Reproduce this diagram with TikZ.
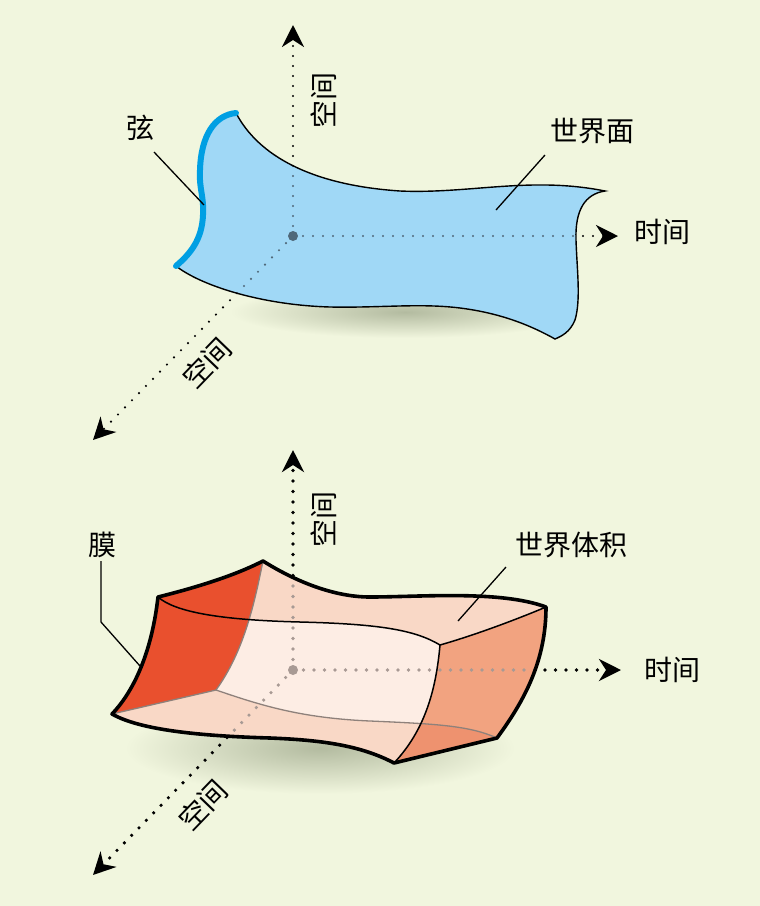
\documentclass[tikz,border=0pt]{standalone}
\usepackage{fontspec}
\newfontfamily\cjk{Noto Sans CJK SC}
\usetikzlibrary{arrows.meta}
\definecolor{bg}{HTML}{F1F6DE}
\definecolor{sheetc}{HTML}{A0D8F6}
\definecolor{stringc}{HTML}{009FE3}
\definecolor{dotone}{HTML}{50697A}
\definecolor{redc}{HTML}{E9502E}
\definecolor{pinkc}{HTML}{F9D8C6}
\definecolor{lightc}{HTML}{FDEDE4}
\definecolor{salmonc}{HTML}{F2A380}
\definecolor{salmondk}{HTML}{EE926F}
\definecolor{edgegray}{HTML}{8E817B}
\definecolor{dottwo}{HTML}{A89A94}
\definecolor{shadowc}{HTML}{B3BBA0}
\begin{document}
\begin{tikzpicture}[x=1pt,y=-1pt,
  lbl/.style={font=\cjk\fontsize{28}{30}\selectfont, inner sep=0pt},
  tip/.style={-{Stealth[length=22pt,width=22pt,inset=7pt]}},
  dotsa/.style={line width=2.4pt, line cap=round, dash pattern=on 0pt off 10pt},
  dotsb/.style={line width=3.6pt, line cap=round, dash pattern=on 0pt off 10.5pt},
  leader/.style={line width=1.3pt},
  outline/.style={line width=1.4pt},
  thick outline/.style={line width=3.6pt, line join=round},
  thinbox/.style={line width=1.5pt},
  grayedge/.style={line width=1.3pt, draw=edgegray}]
\fill[bg] (0,0) rectangle (760,906);
\useasboundingbox (0,0) rectangle (760,906);

% ---------------- top diagram ----------------
\coordinate (O1) at (293,236);
\coordinate (Tv) at (293,25);
\coordinate (Tr) at (618,236);
\coordinate (Td) at (93,440);
\coordinate (P1) at (236,113);
\coordinate (P2) at (176,266);
\coordinate (P3) at (605,191);
\coordinate (P4) at (555,339);
\def\sheetpath{(P1) .. controls (258,155) and (310,185) .. (400,191) .. controls (470,194) and (530,176) .. (P3) .. controls (585,194) and (575,210) .. (576,240) .. controls (577,270) and (581,300) .. (575,320) .. controls (570,332) and (562,336) .. (P4) .. controls (530,325) and (500,313) .. (460,308) .. controls (420,303) and (380,308) .. (330,307) .. controls (260,305) and (200,285) .. (P2) .. controls (190,254) and (202,240) .. (203,215) .. controls (204,195) and (199,190) .. (200,170) .. controls (201,135) and (215,115) .. (P1) -- cycle}

\shade[inner color=shadowc, outer color=bg] (405,312) ellipse [x radius=175pt, y radius=26pt];

\draw[dotsa, tip] (O1) -- (Tv);
\draw[dotsa, tip] (O1) -- (Tr);
\draw[dotsa, tip] (O1) -- (Td);

\fill[sheetc] \sheetpath;
\begin{scope}
  \clip \sheetpath;
  \draw[dotsa, dotone] (O1) -- (Tv);
  \draw[dotsa, dotone] (O1) -- (Tr);
  \draw[dotsa, dotone] (O1) -- (Td);
\end{scope}
\fill[dotone] (O1) circle (5pt);

\draw[outline] (P1) .. controls (258,155) and (310,185) .. (400,191) .. controls (470,194) and (530,176) .. (P3) .. controls (585,194) and (575,210) .. (576,240) .. controls (577,270) and (581,300) .. (575,320) .. controls (570,332) and (562,336) .. (P4) .. controls (530,325) and (500,313) .. (460,308) .. controls (420,303) and (380,308) .. (330,307) .. controls (260,305) and (200,285) .. (P2);
\draw[stringc, line width=6pt, line cap=round] (P2) .. controls (190,254) and (202,240) .. (203,215) .. controls (204,195) and (199,190) .. (200,170) .. controls (201,135) and (215,115) .. (P1);

\node[lbl] (xian) at (140,128) {弦};
\node[lbl] (wsheet) at (592,131) {世界面};
\node[lbl] (time1) at (662,232) {时间};
\node[lbl, rotate=90] (space1v) at (324,100) {空间};
\node[lbl, rotate=46] (space1d) at (207,363) {空间};
\coordinate (xianA) at (154,152);
\coordinate (xianB) at (204,205);
\coordinate (wsA) at (545,155);
\coordinate (wsB) at (496,210);
\draw[leader] (xianA) -- (xianB);
\draw[leader] (wsA) -- (wsB);

% ---------------- bottom diagram ----------------
\coordinate (O2) at (293,670);
\coordinate (Bv) at (293,450);
\coordinate (Br) at (621,670);
\coordinate (Bd) at (93,875);
\coordinate (A) at (158,597);
\coordinate (B) at (263,561);
\coordinate (C) at (112,714);
\coordinate (D) at (216,690);
\coordinate (E) at (546,607);
\coordinate (F) at (440,645);
\coordinate (G) at (394,763);
\coordinate (H) at (497,738);
\def\boxpath{(A) .. controls (190,589) and (232,577) .. (B) .. controls (290,578) and (330,597) .. (370,597) .. controls (420,597) and (500,590) .. (E) .. controls (546,660) and (525,700) .. (H) -- (G) .. controls (360,745) and (320,740) .. (270,738) .. controls (200,736) and (140,730) .. (C) .. controls (135,690) and (152,650) .. (A) -- cycle}
\def\bottomface{(C) -- (D) .. controls (260,705) and (300,718) .. (370,721) .. controls (440,724) and (470,726) .. (H) -- (G) .. controls (360,745) and (320,740) .. (270,738) .. controls (200,736) and (140,730) .. (C) -- cycle}
\def\rightface{(F) .. controls (475,635) and (515,620) .. (E) .. controls (546,660) and (525,700) .. (H) -- (G) .. controls (425,730) and (436,690) .. (F) -- cycle}

\shade[inner color=shadowc, outer color=bg] (320,748) ellipse [x radius=195pt, y radius=46pt];

\draw[dotsb, tip] (O2) -- (Bv);
\draw[dotsb, tip] (O2) -- (Br);
\draw[dotsb, tip] (O2) -- (Bd);

\fill[pinkc] \boxpath;
\fill[lightc] (A) .. controls (175,612) and (220,620) .. (300,622) .. controls (380,624) and (415,630) .. (F) .. controls (436,690) and (425,730) .. (G) .. controls (360,745) and (320,740) .. (270,738) .. controls (200,736) and (140,730) .. (C) .. controls (135,690) and (152,650) .. (A) -- cycle;
\fill[pinkc] \bottomface;
\fill[salmonc] \rightface;
\begin{scope}
  \clip \bottomface;
  \fill[salmondk] \rightface;
\end{scope}
\begin{scope}
  \clip \boxpath;
  \draw[dotsb, dottwo] (O2) -- (Bv);
  \draw[dotsb, dottwo] (O2) -- (Br);
  \draw[dotsb, dottwo] (O2) -- (Bd);
\end{scope}
\fill[dottwo] (O2) circle (5pt);
\fill[redc] (A) .. controls (190,589) and (232,577) .. (B) .. controls (255,600) and (245,650) .. (D) -- (C) .. controls (135,690) and (152,650) .. (A) -- cycle;

\draw[grayedge] (B) .. controls (255,600) and (245,650) .. (D);
\draw[grayedge] (D) -- (C);
\draw[grayedge] (D) .. controls (260,705) and (300,718) .. (370,721) .. controls (440,724) and (470,726) .. (H);
\draw[thinbox] (A) .. controls (175,612) and (220,620) .. (300,622) .. controls (380,624) and (415,630) .. (F);
\draw[thinbox] (F) .. controls (475,635) and (515,620) .. (E);
\draw[thinbox] (F) .. controls (436,690) and (425,730) .. (G);
\draw[thick outline] \boxpath;

\node[lbl] (mo) at (102,545) {膜};
\node[lbl] (wvol) at (571,545) {世界体积};
\node[lbl] (time2) at (672,670) {时间};
\node[lbl, rotate=90] (space2v) at (324,519) {空间};
\node[lbl, rotate=46] (space2d) at (203,805) {空间};
\coordinate (moA) at (101,561);
\coordinate (moK) at (101,622);
\coordinate (moB) at (140,666);
\coordinate (wvA) at (506,567);
\coordinate (wvB) at (458,621);
\draw[leader] (moA) -- (moK) -- (moB);
\draw[leader] (wvA) -- (wvB);
\end{tikzpicture}
\end{document}
